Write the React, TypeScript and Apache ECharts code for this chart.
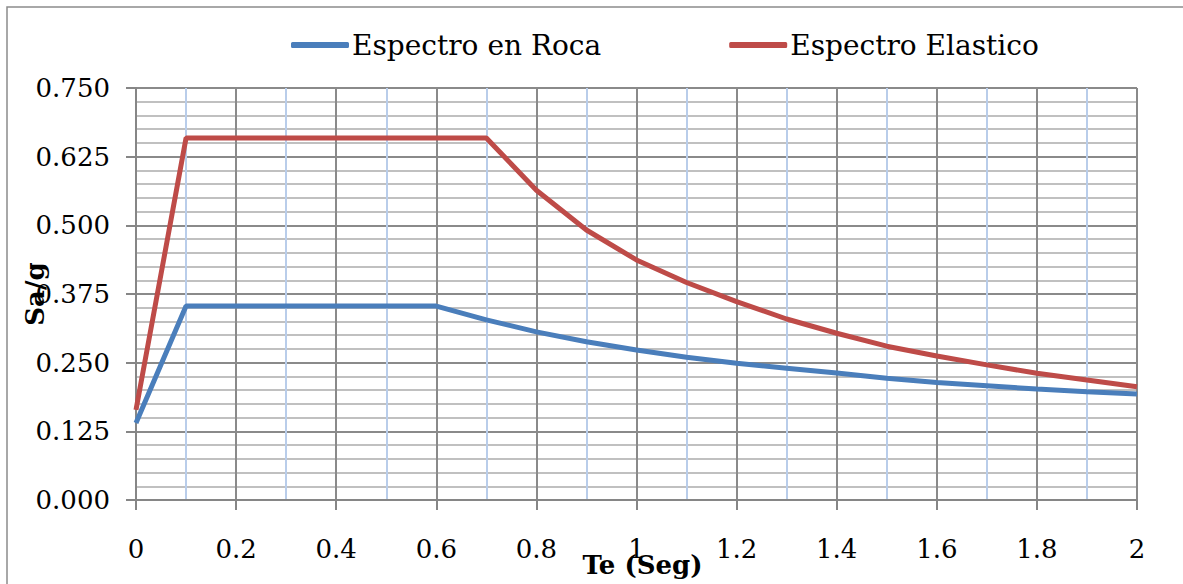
import React, { useEffect, useRef } from "react";
import * as echarts from "echarts";

const periods = [0, 0.1, 0.2, 0.3, 0.4, 0.5, 0.6, 0.7, 0.8, 0.9, 1.0, 1.1, 1.2, 1.3, 1.4, 1.5, 1.6, 1.7, 1.8, 1.9, 2.0];
const rocaValues = [0.14, 0.353, 0.353, 0.353, 0.353, 0.353, 0.353, 0.328, 0.306, 0.288, 0.273, 0.26, 0.249, 0.24, 0.231, 0.2215, 0.214, 0.208, 0.202, 0.197, 0.193];
const elasticoValues = [0.164, 0.659, 0.659, 0.659, 0.659, 0.659, 0.659, 0.659, 0.564, 0.4915, 0.437, 0.396, 0.361, 0.3295, 0.3035, 0.28, 0.262, 0.246, 0.2306, 0.2185, 0.206];
const seriesNames = ["Espectro en Roca", "Espectro Elastico"];
const xTitle = "Te (Seg)";
const yTitle = "Sa/g";

const FONT = "DejaVu Serif";

export default function App() {
  const ref = useRef<HTMLDivElement>(null);
  useEffect(() => {
    document.body.style.margin = "0";
    const chart = echarts.init(ref.current!, undefined, { renderer: "svg", width: 1183, height: 584 });
    chart.setOption({
      animation: false,
      backgroundColor: "#ffffff",
      graphic: [
        {
          type: "rect",
          shape: { x: 7, y: 7, width: 1200, height: 620 },
          style: { fill: "none", stroke: "#8c8c8c", lineWidth: 1.5 },
          silent: true,
        },
      ],
      legend: {
        left: 286,
        top: 26,
        itemWidth: 58,
        itemHeight: 6,
        itemGap: 128,
        icon: "roundRect",
        textStyle: { fontFamily: FONT, fontSize: 28, color: "#000", padding: [0, 0, 0, -2] },
        data: seriesNames,
      },
      grid: { left: 136, top: 88, width: 1001, height: 412, containLabel: false, outerBoundsMode: "none" },
      xAxis: {
        type: "value",
        min: 0,
        max: 2,
        interval: 0.2,
        name: xTitle,
        nameLocation: "middle",
        nameGap: 52,
        nameMoveOverlap: false,
        nameTextStyle: { fontFamily: FONT, fontSize: 26, fontWeight: "bold", color: "#000", padding: [0, 0, 0, 12] },
        axisLine: { show: true, lineStyle: { color: "#868686", width: 2 } },
        axisTick: { show: true, length: 10, lineStyle: { color: "#868686", width: 2 } },
        axisLabel: {
          fontFamily: FONT,
          fontSize: 26,
          color: "#000",
          margin: 36,
          formatter: (v: number) => String(Math.round(v * 10) / 10),
        },
        splitLine: { show: true, lineStyle: { color: "#8a8a8a", width: 2 } },
        minorTick: { show: false, splitNumber: 2 },
        minorSplitLine: { show: true, lineStyle: { color: "#b9cdea", width: 2 } },
      },
      yAxis: {
        type: "value",
        min: 0,
        max: 0.75,
        interval: 0.125,
        name: yTitle,
        nameLocation: "middle",
        nameGap: 88,
        nameMoveOverlap: false,
        nameRotate: 90,
        nameTextStyle: { fontFamily: FONT, fontSize: 26, fontWeight: "bold", color: "#000" },
        axisLine: { show: true, lineStyle: { color: "#868686", width: 2 } },
        axisTick: { show: true, length: 10, lineStyle: { color: "#868686", width: 2 } },
        axisLabel: {
          fontFamily: FONT,
          fontSize: 26,
          color: "#000",
          margin: 26,
          formatter: (v: number) => v.toFixed(3),
        },
        splitLine: { show: true, lineStyle: { color: "#8a8a8a", width: 2 } },
        minorTick: { show: false, splitNumber: 5 },
        minorSplitLine: { show: true, lineStyle: { color: "#c0c0c0", width: 2 } },
      },
      series: [
        {
          name: seriesNames[0],
          type: "line",
          data: periods.map((t, i) => [t, rocaValues[i]]),
          symbol: "none",
          lineStyle: { color: "#4a7ebb", width: 5 },
          itemStyle: { color: "#4a7ebb" },
          z: 3,
        },
        {
          name: seriesNames[1],
          type: "line",
          data: periods.map((t, i) => [t, elasticoValues[i]]),
          symbol: "none",
          lineStyle: { color: "#be4b48", width: 5 },
          itemStyle: { color: "#be4b48" },
          z: 4,
        },
      ],
    });
    return () => chart.dispose();
  }, []);
  return <div ref={ref} style={{ position: "absolute", left: 0, top: 0, width: 1183, height: 584 }} />;
}
